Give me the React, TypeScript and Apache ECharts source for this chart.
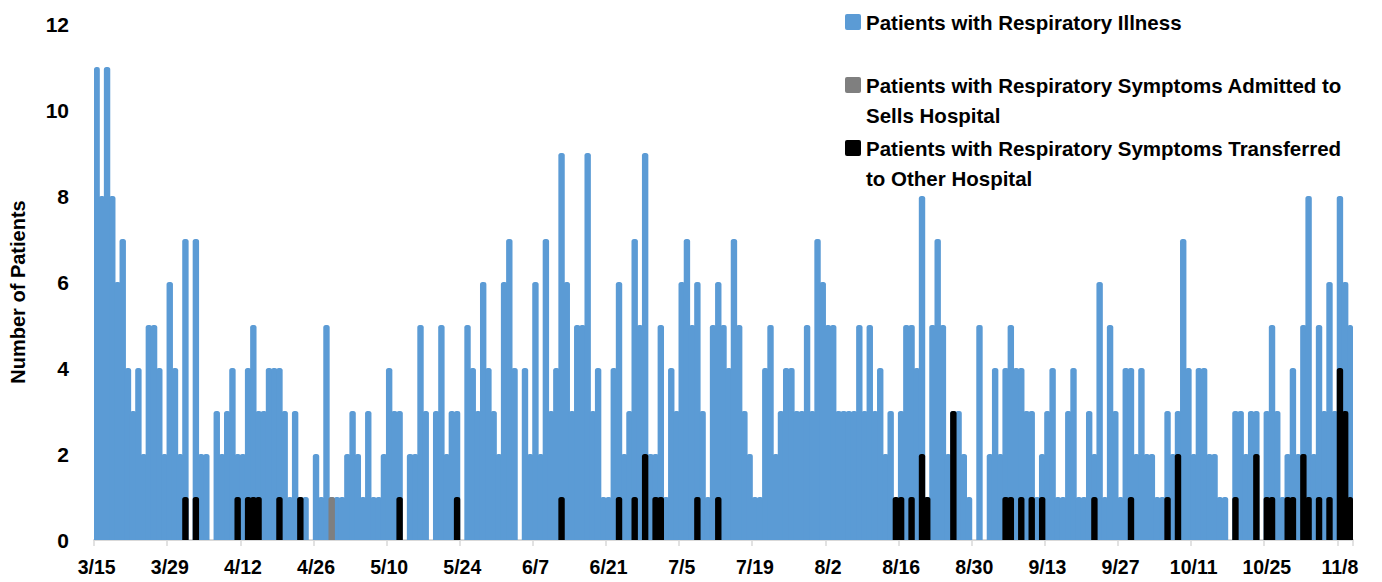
import React, { useEffect, useRef } from "react";
import * as echarts from "echarts";

// First day shown on the axis and number of days
const firstDay = { year: 2020, month: 3, day: 15 };
const dayCount = 241;

// Daily patients with respiratory illness (3/15 .. 11/10)
const respiratoryIllness = [
  11, 8, 11, 8, 6, 7, 4, 3, 4, 2, 5, 5, 4, 2, 6, 4, 2, 7, 0, 7, 2, 2, 0, 3, 2, 3, 4, 2, 2, 4, 5,
  3, 3, 4, 4, 4, 3, 1, 3, 1, 1, 0, 2, 1, 5, 1, 1, 1, 2, 3, 2, 1, 3, 1, 1, 2, 4,
  3, 3, 0, 2, 2, 5, 3, 0, 3, 5, 2, 3, 3, 0, 5, 4, 3, 6, 4, 3, 2, 6, 7, 4, 0, 4, 2,
  6, 2, 7, 3, 4, 9, 6, 3, 5, 5, 9, 3, 4, 1, 1, 4, 6, 2, 3, 7, 5, 9, 2, 2, 5, 1,
  4, 3, 6, 7, 5, 6, 3, 1, 5, 6, 5, 4, 7, 5, 3, 2, 1, 1, 4, 5, 2, 3, 4, 4, 3, 3,
  5, 3, 7, 6, 5, 5, 3, 3, 3, 3, 5, 3, 5, 3, 4, 2, 3, 0, 3, 5, 5, 4, 8, 1, 5, 7, 5,
  2, 3, 3, 2, 1, 0, 5, 0, 2, 4, 2, 4, 5, 4, 4, 3, 3, 1, 2, 3, 4, 1, 1, 3, 4, 1, 1,
  3, 2, 6, 1, 5, 3, 1, 4, 4, 2, 4, 2, 2, 1, 1, 3, 2, 3, 7, 4, 2, 4, 4, 2, 2, 1, 1,
  0, 3, 3, 2, 3, 3, 0, 3, 5, 3, 1, 2, 4, 2, 5, 8, 2, 5, 3, 6, 3, 8, 6, 5,
];

// Admitted to Sells Hospital (day index from 3/15, count)
const admittedDays = [45];
const admittedCounts = [1];

// Transferred to other hospital (day index from 3/15, count)
const transferredDays = [
  17, 19, 27, 29, 30, 31, 35, 39, 58, 69, 89, 100, 103, 105, 107, 108, 115, 119,
  153, 154, 156, 158, 159, 164, 174, 175, 177, 179, 181, 191, 198, 205, 207,
  218, 222, 224, 225, 228, 229, 231, 232, 234, 236, 238, 239, 240,
];
const transferredCounts = [
  1, 1, 1, 1, 1, 1, 1, 1, 1, 1, 1, 1, 1, 2, 1, 1, 1, 1,
  1, 1, 1, 2, 1, 3, 1, 1, 1, 1, 1, 1, 1, 1, 2,
  1, 2, 1, 1, 1, 1, 2, 1, 1, 1, 4, 3, 1,
];

const seriesNames = [
  "Patients with Respiratory Illness",
  "Patients with Respiratory Symptoms Admitted to Sells Hospital",
  "Patients with Respiratory Symptoms Transferred to Other Hospital",
];
const legendLines = [
  ["Patients with Respiratory Illness"],
  ["Patients with Respiratory Symptoms Admitted to", "Sells Hospital"],
  ["Patients with Respiratory Symptoms Transferred", "to Other Hospital"],
];
const seriesColors = ["#5B9BD5", "#7F7F7F", "#000000"];
const yAxisTitle = "Number of Patients";
const yMax = 12;
const yStep = 2;
const labelEvery = 14;

const FONT = "'Liberation Sans', Arial, sans-serif";

function buildCategories(): string[] {
  const out: string[] = [];
  const base = new Date(firstDay.year, firstDay.month - 1, firstDay.day);
  for (let i = 0; i < dayCount; i++) {
    const d = new Date(base.getFullYear(), base.getMonth(), base.getDate() + i);
    out.push(`${d.getMonth() + 1}/${d.getDate()}`);
  }
  return out;
}

function sparse(days: number[], counts: number[]): (number | null)[] {
  const arr: (number | null)[] = new Array(dayCount).fill(null);
  days.forEach((d, i) => {
    arr[d] = counts[i];
  });
  return arr;
}

export default function App() {
  const ref = useRef<HTMLDivElement>(null);

  useEffect(() => {
    document.body.style.margin = "0";
    if (!ref.current) return;
    const chart = echarts.init(ref.current, undefined, { renderer: "svg" });
    const categories = buildCategories();

    const legendGraphics: any[] = [];
    const legendTops = [22, 85, 148];
    legendLines.forEach((lines, i) => {
      legendGraphics.push({
        type: "rect",
        left: 845,
        top: legendTops[i] - 8,
        shape: { width: 16, height: 16, r: 2 },
        style: { fill: seriesColors[i] },
      });
      legendGraphics.push({
        type: "text",
        left: 866,
        top: legendTops[i] - 15,
        style: {
          text: lines.join("\n"),
          font: `bold 20.5px ${FONT}`,
          fill: "#000",
          lineHeight: 30,
        },
      });
    });

    const barCommon = {
      type: "bar" as const,
      barGap: "-100%",
      barWidth: 6.4,
    };

    const styleFor = (i: number) => ({
      color: seriesColors[i],
      borderRadius: [2.5, 2.5, 0, 0],
    });

    chart.setOption({
      animation: false,
      backgroundColor: "#ffffff",
      grid: { left: 94, right: 29, top: 24, bottom: 42, containLabel: false },
      xAxis: {
        type: "category",
        data: categories,
        boundaryGap: true,
        axisLine: { show: true, lineStyle: { color: "#D9D9D9", width: 2 } },
        axisTick: {
          show: true,
          interval: labelEvery - 1,
          length: 6,
          lineStyle: { color: "#D9D9D9", width: 1.5 },
        },
        axisLabel: {
          interval: labelEvery - 1,
          margin: 17,
          color: "#000",
          fontWeight: "bold",
          fontSize: 19.5,
          fontFamily: FONT,
        },
        splitLine: { show: false },
      },
      yAxis: {
        type: "value",
        min: 0,
        max: yMax,
        interval: yStep,
        name: yAxisTitle,
        nameLocation: "middle",
        nameGap: 66,
        nameTextStyle: {
          color: "#000",
          fontWeight: "bold",
          fontSize: 20,
          fontFamily: FONT,
          padding: [0, 20, 0, 0],
        },
        axisLine: { show: false },
        axisTick: { show: false },
        splitLine: { show: false },
        axisLabel: {
          margin: 25,
          color: "#000",
          fontWeight: "bold",
          fontSize: 21,
          fontFamily: FONT,
        },
      },
      series: [
        {
          ...barCommon,
          name: seriesNames[0],
          data: respiratoryIllness,
          itemStyle: styleFor(0),
        },
        {
          ...barCommon,
          name: seriesNames[1],
          data: sparse(admittedDays, admittedCounts),
          itemStyle: styleFor(1),
        },
        {
          ...barCommon,
          name: seriesNames[2],
          data: sparse(transferredDays, transferredCounts),
          itemStyle: styleFor(2),
        },
      ],
      graphic: legendGraphics,
    });

    return () => {
      chart.dispose();
    };
  }, []);

  return <div ref={ref} style={{ width: 1382, height: 582 }} />;
}
